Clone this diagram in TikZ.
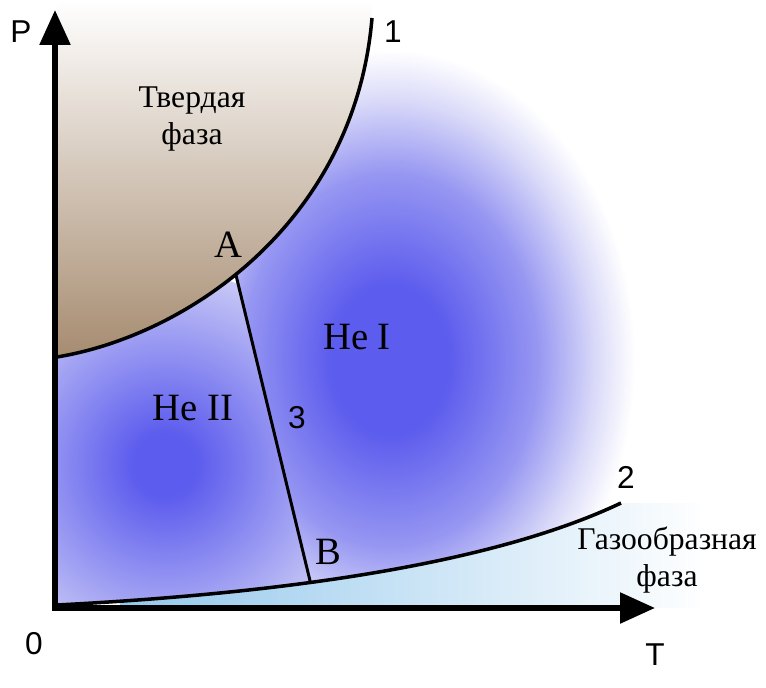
\documentclass[tikz,border=0pt]{standalone}
\usepackage{fontspec}
\setmainfont{Liberation Serif}
\newfontfamily\labelsans{Liberation Sans}
\usetikzlibrary{arrows.meta,calc}
\definecolor{SolidBrown}{RGB}{165,138,110}
\definecolor{HeBlue}{RGB}{92,92,238}
\definecolor{HeMid}{RGB}{150,150,242}
\definecolor{HeFaint}{RGB}{218,218,249}
\definecolor{HeLilac}{RGB}{200,200,246}
\definecolor{GasBlue}{RGB}{148,200,236}
\pgfdeclareradialshading{heonefade}{\pgfpoint{0bp}{0bp}}{color(0bp)=(HeBlue);color(6bp)=(HeBlue);color(15bp)=(HeMid);color(21bp)=(HeFaint);color(25bp)=(white);color(50bp)=(white)}
\pgfdeclareradialshading{hetwofade}{\pgfpoint{0bp}{0bp}}{color(0bp)=(HeBlue);color(4bp)=(HeBlue);color(25bp)=(HeLilac);color(50bp)=(HeLilac)}
\tikzset{
  axisline/.style={line width=3.2pt,{Triangle[length=7mm,width=6mm]}-{Triangle[length=7mm,width=6mm]}},
  border/.style={line width=2pt},
  phase/.style={font=\fontsize{18}{21}\selectfont,align=center},
  region/.style={font=\fontsize{22}{24}\selectfont},
  pointlbl/.style={font=\fontsize{22}{24}\selectfont},
  num/.style={font=\labelsans\fontsize{18}{20}\selectfont}
}
\begin{document}
\begin{tikzpicture}[x=0.02cm,y=-0.02cm]
  \useasboundingbox[fill=white] (0,0) rectangle (766,688);
  % axes and phase boundaries
  \coordinate (O) at (55,608);
  \coordinate (Ptop) at (55,10);
  \coordinate (Tend) at (655,608);
  \coordinate (s1) at (57,357);
  \coordinate (c1a) at (190,335);
  \coordinate (c1b) at (355,220);
  \coordinate (e1) at (372,18);
  \coordinate (s2) at (57,605);
  \coordinate (c2a) at (250,595);
  \coordinate (c2b) at (480,570);
  \coordinate (e2) at (621,503);
  \path (s1) .. controls (c1a) and (c1b) .. (e1) coordinate[pos=.44] (A);
  \path (s2) .. controls (c2a) and (c2b) .. (e2) coordinate[pos=.42] (B);

  % solid
  \begin{scope}
    \clip (s1) .. controls (c1a) and (c1b) .. (e1) -- (372,-10) -- (57,-10) -- cycle;
    \shade[top color=white,bottom color=SolidBrown] (40,0) rectangle (380,362);
  \end{scope}
  % gas
  \begin{scope}
    \clip (s2) .. controls (c2a) and (c2b) .. (e2) -- (700,503) -- (700,608) -- (57,608) -- cycle;
    \shade[left color=GasBlue,right color=white] (120,490) rectangle (710,610);
  \end{scope}
  % He I
  \begin{scope}
    \clip (s1) .. controls (c1a) and (c1b) .. (e1) -- (372,-10) -- (780,-10) -- (780,503) -- (e2) .. controls (c2b) and (c2a) .. (s2) -- cycle;
    \clip ($(A)!-1!(B)$) -- ($(B)!-1!(A)$) -- (800,900) -- (800,-40) -- cycle;
    \shade[shading=heonefade] (390,360) ellipse (245 and 310);
  \end{scope}
  % He II
  \begin{scope}
    \clip (s1) .. controls (c1a) and (c1b) .. (e1) -- (372,-10) -- (780,-10) -- (780,503) -- (e2) .. controls (c2b) and (c2a) .. (s2) -- cycle;
    \clip ($(A)!-1!(B)$) -- ($(B)!-1!(A)$) -- (-20,900) -- (-20,-40) -- cycle;
    \shade[shading=hetwofade] (165,465) circle (195);
  \end{scope}

  \draw[border] (s1) .. controls (c1a) and (c1b) .. (e1);
  \draw[border] (s2) .. controls (c2a) and (c2b) .. (e2);
  \draw[border,line width=1.7pt] (A) -- (B);
  \draw[axisline] (Ptop) -- (O) -- (Tend);

  \node[phase] (solid) at (192,119) {Твердая\\фаза};
  \node[phase] (gas) at (667,560) {Газообразная\\фаза};
  \node[region] (he1) at (357,337) {He I};
  \node[region] (he2) at (193,408) {He II};
  \node[pointlbl] (lblA) at (228,245) {A};
  \node[pointlbl] (lblB) at (328,552) {B};
  \node[num] (n1) at (393,32) {1};
  \node[num] (n2) at (626,477) {2};
  \node[num] (n3) at (297,418) {3};
  \node[num] (lblP) at (21,32) {P};
  \node[num] (lblT) at (655,655) {T};
  \node[num] (lbl0) at (34,644) {0};
\end{tikzpicture}
\end{document}
